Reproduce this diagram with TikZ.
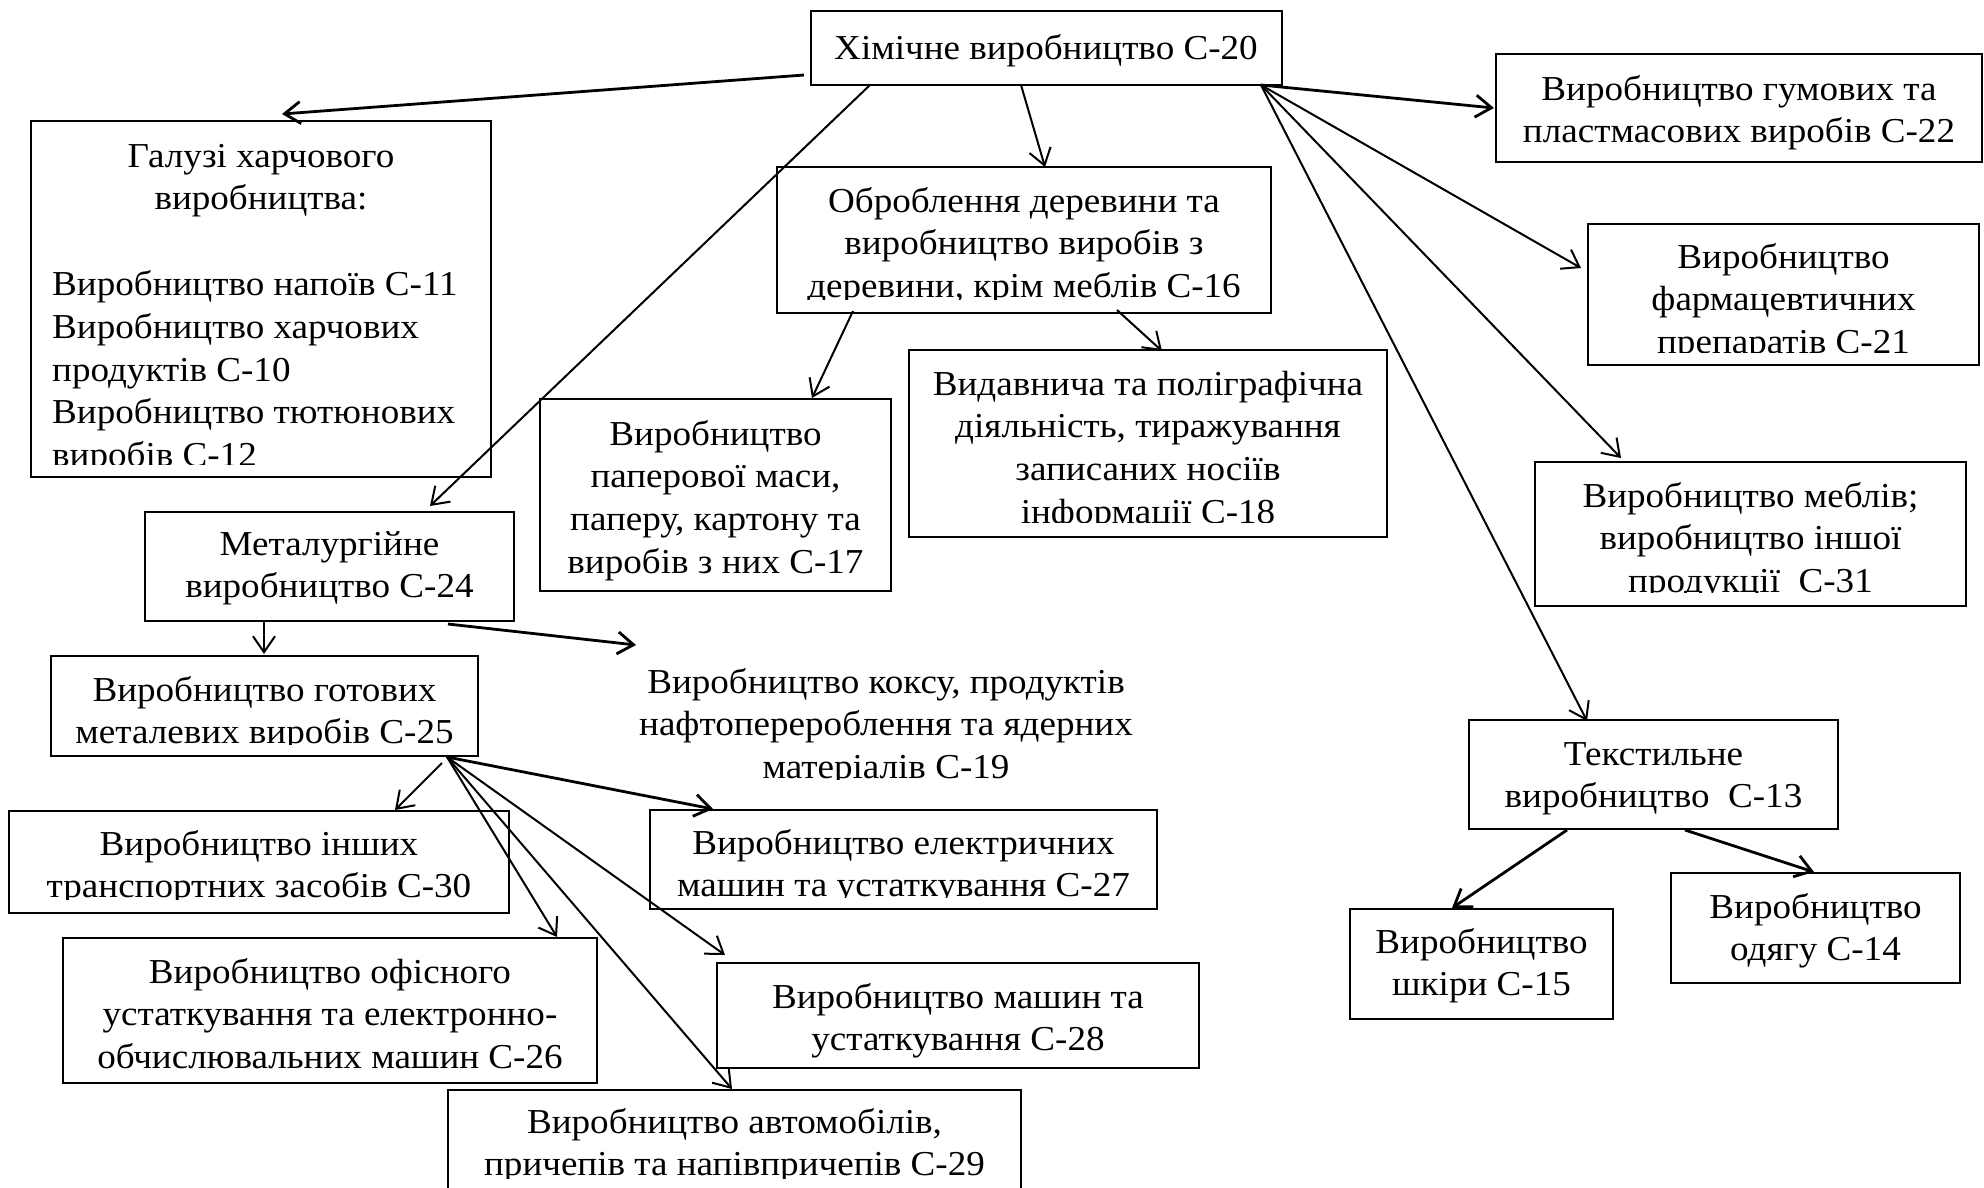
\documentclass[tikz,border=0pt]{standalone}
\usepackage{fontspec}
\setmainfont{Liberation Serif}[FakeStretch=1.06]
\usetikzlibrary{arrows.meta,fit,calc}

\tikzset{
  box/.style={draw, line width=2.8pt, inner sep=0pt, outer sep=0pt},
  txt/.style={inner sep=0pt, anchor=base, font=\fontsize{35}{42.8}\selectfont},
  arr/.style={line width=2pt, -{Straight Barb[length=16pt,width=22pt]}},
  arrb/.style={arr, line width=2.8pt},
}

% lines of text: [anchor]{prefix}{x}{first baseline}{list of lines}
\newcommand\tlines[5][base]{%
  \foreach \t [count=\i] in {#5} {\node[txt, anchor=#1] (#2-\i) at (#3,{#4+(\i-1)*42.8}) {\t};}}
% clip the text of a box a little above its lower edge
\newcommand\clipto[2]{\clip (#1.north west) rectangle ([yshift=#2pt]#1.south east);}

\begin{document}
\begin{tikzpicture}[x=1pt,y=-1pt]
\fill[white] (0,0) rectangle (1984,1187);
\useasboundingbox (0,0) rectangle (1984,1187);

% frames
\node[box, fit={(811,11) (1282,85)}] (chem) {};
\node[box, fit={(31,121) (491,477)}] (galuzi) {};
\node[box, fit={(1496,54) (1982,162)}] (gum) {};
\node[box, fit={(777,167) (1271,313)}] (wood) {};
\node[box, fit={(1588,224) (1979,365)}] (pharma) {};
\node[box, fit={(909,350) (1387,537)}] (publ) {};
\node[box, fit={(540,399) (891,591)}] (paper) {};
\node[box, fit={(1535,462) (1966,606)}] (furn) {};
\node[box, fit={(145,512) (514,621)}] (metal) {};
\node[box, fit={(51,656) (478,756)}] (c25) {};
\node[inner sep=0pt, outer sep=0pt, fit={(630,660) (1140,782)}] (coke) {};
\node[box, fit={(1469,720) (1838,829)}] (textile) {};
\node[box, fit={(650,810) (1157,909)}] (c27) {};
\node[box, fit={(9,811) (509,913)}] (c30) {};
\node[box, fit={(1671,873) (1960,983)}] (c14) {};
\node[box, fit={(1350,909) (1613,1019)}] (c15) {};
\node[box, fit={(63,938) (597,1083)}] (c26) {};
\node[box, fit={(717,963) (1199,1068)}] (c28) {};
\node[box, fit={(448,1090) (1021,1210)}] (c29) {};

% texts
\tlines{chem}{1046}{59}{Хімічне виробництво С-20}
\begin{scope}\clipto{galuzi}{13}
  \tlines{galuzi}{261}{167}{Галузі харчового, виробництва:}
  \tlines[base west]{food}{52}{295.4}{Виробництво напоїв С-11, Виробництво харчових, продуктів С-10, Виробництво тютюнових, виробів С-12}
\end{scope}
\tlines{gum}{1739}{100}{Виробництво гумових та, пластмасових виробів С-22}
\begin{scope}\clipto{wood}{14}
  \tlines{wood}{1024}{212}{Оброблення деревини та, виробництво виробів з, {деревини, крім меблів С-16}}
\end{scope}
\begin{scope}\clipto{pharma}{13}
  \tlines{pharma}{1783.5}{268}{Виробництво, фармацевтичних, препаратів С-21}
\end{scope}
\tlines{paper}{715.5}{445}{Виробництво, {паперової маси,}, {паперу, картону та}, виробів з них С-17}
\begin{scope}\clipto{publ}{15}
  \tlines{publ}{1148}{395}{Видавнича та поліграфічна, {діяльність, тиражування}, записаних носіїв, інформації С-18}
\end{scope}
\begin{scope}\clipto{furn}{14}
  \tlines{furn}{1750.5}{507}{Виробництво меблів;, виробництво іншої, продукції~~С-31}
\end{scope}
\tlines{metal}{329.5}{555}{Металургійне, виробництво С-24}
\begin{scope}\clipto{c25}{12}
  \tlines{c25}{264.5}{701}{Виробництво готових, металевих виробів С-25}
\end{scope}
\begin{scope}\clipto{coke}{3}
  \tlines{coke}{886}{693}{{Виробництво коксу, продуктів}, нафтоперероблення та ядерних, матеріалів С-19}
\end{scope}
\tlines{textile}{1653.5}{765}{Текстильне, виробництво~~С-13}
\begin{scope}\clipto{c30}{14}
  \tlines{c30}{259}{855}{Виробництво інших, транспортних засобів С-30}
\end{scope}
\begin{scope}\clipto{c27}{12}
  \tlines{c27}{903.5}{854}{Виробництво електричних, машин та устаткування С-27}
\end{scope}
\tlines{c26}{330}{983}{Виробництво офісного, устаткування та електронно-, обчислювальних машин С-26}
\tlines{c28}{958}{1008}{Виробництво машин та, устаткування С-28}
\begin{scope}\clipto{c29}{32}
  \tlines{c29}{734.5}{1133}{{Виробництво автомобілів,}, причепів та напівпричепів С-29}
\end{scope}
\tlines{c15}{1481.5}{953}{Виробництво, шкіри С-15}
\tlines{c14}{1815.5}{918}{Виробництво, одягу С-14}

% connectors
\draw[arrb] ($(chem.south west)+(-7,-10)$) -- ($(galuzi.north)+(21,-7)$);
\draw[arr]  ($(chem.south west)+(59,0)$) -- ($(metal.north west)+(285,-6)$);
\draw[arr]  ($(chem.south west)+(210,0)$) -- ($(wood.north)+(21,0)$);
\draw[arrb] ($(chem.south east)+(-21,0)$) -- ($(gum.west)+(-2,0)$);
\draw[arr]  ($(chem.south east)+(-21,0)$) -- ($(pharma.north west)+(-7,44)$);
\draw[arr]  ($(chem.south east)+(-21,0)$) -- ($(furn.north west)+(86,-4)$);
\draw[arr]  ($(chem.south east)+(-21,0)$) -- ($(textile.north west)+(118,1)$);
\draw[arr]  ($(wood.south west)+(76,-2)$) -- ($(paper.north west)+(272,-1)$);
\draw[arr]  ($(wood.south west)+(340,-3)$) -- ($(publ.north west)+(253,1)$);
\draw[arr]  ($(metal.south west)+(119,0)$) -- ($(c25.north west)+(213,-2)$);
\draw[arrb] ($(metal.south west)+(303,3)$) -- ($(coke.north west)+(6,-15)$);
\draw[arr]  ($(c25.south east)+(-36,7)$) -- ($(c30.north west)+(386,-1)$);
\draw[arrb] ($(c25.south east)+(-31,1)$) -- ($(c27.north west)+(63,-1)$);
\draw[arr]  ($(c25.south east)+(-31,1)$) -- ($(c26.north west)+(494,-1)$);
\draw[arr]  ($(c25.south east)+(-31,1)$) -- ($(c28.north west)+(8,-8)$);
\draw[arr]  ($(c25.south east)+(-31,1)$) -- ($(c29.north west)+(284,-1)$);
\draw[arrb] ($(textile.south west)+(98,1)$) -- ($(c15.north west)+(102,-1)$);
\draw[arrb] ($(textile.south west)+(216,1)$) -- ($(c14.north west)+(143,-1)$);
\end{tikzpicture}
\end{document}
